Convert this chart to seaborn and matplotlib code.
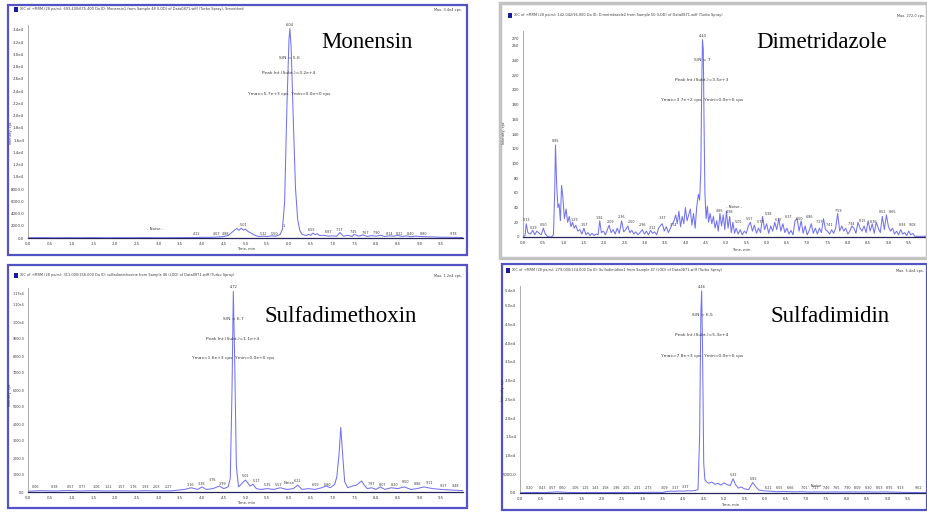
import matplotlib
matplotlib.use("Agg")
import matplotlib.pyplot as plt
import seaborn as sns
import pandas as pd
from matplotlib.patches import Rectangle

# ---------------- data ----------------
mon_t = [0.0, 0.3, 0.6, 0.9, 1.2, 1.5, 1.8, 2.1, 2.4, 2.7,
         3.0, 3.3, 3.6, 3.9, 4.1, 4.2, 4.3, 4.4, 4.5, 4.6,
         4.65, 4.7, 4.75, 4.8, 4.85, 4.9, 4.95, 5.0, 5.05, 5.1,
         5.15, 5.2, 5.25, 5.3, 5.4, 5.5, 5.6, 5.7, 5.8, 5.85,
         5.9, 5.95, 6.0, 6.02, 6.05, 6.1, 6.15, 6.2, 6.25, 6.3,
         6.4, 6.45, 6.5, 6.55, 6.6, 6.65, 6.7, 6.8, 6.9, 7.0,
         7.1, 7.17, 7.25, 7.35, 7.45, 7.5, 7.6, 7.7, 7.8, 7.9,
         8.0, 8.1, 8.2, 8.3, 8.4, 8.5, 8.6, 8.7, 8.8, 8.9,
         9.0, 9.2, 9.4, 9.6, 9.8, 10.0]
mon_i = [40, 60, 30, 50, 40, 60, 30, 50, 40, 60,
         40, 50, 60, 80, 120, 100, 150, 180, 250, 400,
         700, 1000, 1300, 1550, 1250, 1600, 1300, 1450, 1100, 900,
         700, 500, 350, 250, 300, 250, 350, 300, 600, 1500,
         6000, 21000, 32500, 34200, 31000, 19000, 8000, 3000, 1200, 600,
         400, 600, 450, 800, 550, 700, 400, 450, 300, 350,
         300, 900, 300, 450, 250, 600, 300, 500, 250, 400,
         300, 450, 250, 350, 300, 400, 250, 350, 200, 300,
         250, 200, 150, 120, 100, 80]

dim_t = [0.00, 0.05, 0.08, 0.12, 0.18, 0.24, 0.29, 0.34, 0.40, 0.45,
         0.50, 0.55, 0.60, 0.65, 0.70, 0.75, 0.78, 0.80, 0.83, 0.86,
         0.89, 0.92, 0.95, 0.98, 1.02, 1.06, 1.10, 1.14, 1.18, 1.22,
         1.26, 1.30, 1.35, 1.40, 1.45, 1.50, 1.55, 1.60, 1.65, 1.70,
         1.75, 1.80, 1.85, 1.89, 1.93, 1.98, 2.03, 2.08, 2.12, 2.17,
         2.22, 2.27, 2.32, 2.37, 2.43, 2.48, 2.53, 2.58, 2.63, 2.68,
         2.73, 2.78, 2.83, 2.88, 2.94, 2.99, 3.04, 3.09, 3.14, 3.19,
         3.24, 3.29, 3.34, 3.39, 3.43, 3.48, 3.53, 3.58, 3.63, 3.68,
         3.72, 3.76, 3.80, 3.84, 3.88, 3.92, 3.96, 4.00, 4.04, 4.08,
         4.12, 4.16, 4.20, 4.24, 4.28, 4.32, 4.35, 4.38, 4.40, 4.42,
         4.44, 4.46, 4.48, 4.51, 4.54, 4.57, 4.61, 4.65, 4.69, 4.73,
         4.77, 4.81, 4.85, 4.89, 4.93, 4.97, 5.01, 5.05, 5.09, 5.13,
         5.17, 5.21, 5.25, 5.30, 5.35, 5.40, 5.45, 5.50, 5.55, 5.60,
         5.65, 5.70, 5.75, 5.80, 5.85, 5.90, 5.95, 6.00, 6.05, 6.10,
         6.15, 6.20, 6.25, 6.30, 6.35, 6.40, 6.45, 6.50, 6.55, 6.60,
         6.65, 6.70, 6.75, 6.80, 6.85, 6.90, 6.95, 7.00, 7.05, 7.10,
         7.15, 7.20, 7.25, 7.30, 7.35, 7.40, 7.45, 7.50, 7.55, 7.60,
         7.65, 7.70, 7.75, 7.80, 7.85, 7.90, 7.95, 8.00, 8.05, 8.10,
         8.15, 8.20, 8.25, 8.30, 8.35, 8.40, 8.45, 8.50, 8.55, 8.60,
         8.65, 8.70, 8.75, 8.80, 8.85, 8.90, 8.95, 9.00, 9.05, 9.10,
         9.15, 9.20, 9.25, 9.30, 9.35, 9.40, 9.45, 9.50, 9.55, 9.60,
         9.65, 9.75, 9.85, 9.95]
dim_i = [0, 2, 18, 6, 4, 9, 3, 8, 5, 3,
         12, 4, 1, 0, 0, 3, 60, 125, 70, 40,
         45, 22, 70, 55, 25, 38, 20, 28, 14, 20,
         12, 16, 8, 10, 4, 12, 3, 6, 2, 5,
         2, 4, 3, 22, 6, 8, 3, 10, 16, 6,
         10, 4, 12, 5, 22, 7, 10, 15, 6, 9,
         4, 7, 3, 6, 10, 4, 8, 3, 9, 5,
         7, 3, 12, 16, 18, 8, 14, 6, 12, 18,
         22, 30, 18, 35, 14, 28, 18, 40, 22, 30,
         38, 16, 32, 12, 42, 58, 50, 90, 200, 268,
         255, 150, 60, 25, 42, 20, 32, 18, 28, 12,
         22, 8, 32, 15, 30, 10, 35, 12, 28, 6,
         20, 5, 12, 4, 10, 3, 8, 5, 15, 20,
         8, 16, 5, 12, 6, 28, 10, 18, 5, 15,
         8, 20, 10, 25, 8, 18, 6, 12, 4, 9,
         3, 22, 25, 8, 22, 5, 15, 3, 9, 18,
         5, 12, 4, 12, 6, 25, 10, 8, 4, 10,
         5, 12, 32, 8, 15, 8, 12, 4, 8, 15,
         12, 5, 20, 12, 8, 15, 6, 22, 8, 18,
         5, 20, 12, 6, 28, 10, 30, 14, 8, 12,
         4, 8, 3, 10, 4, 6, 2, 8, 3, 5,
         1, 1, 1, 1]

sdm_t = [0.0, 0.3, 0.6, 0.9, 1.2, 1.5, 1.8, 2.1, 2.4, 2.7,
         3.0, 3.3, 3.6, 3.75, 3.9, 4.0, 4.1, 4.25, 4.4, 4.5,
         4.6, 4.65, 4.69, 4.72, 4.75, 4.79, 4.84, 4.9, 4.95, 5.0,
         5.05, 5.1, 5.17, 5.25, 5.35, 5.5, 5.65, 5.8, 5.95, 6.1,
         6.2, 6.3, 6.45, 6.6, 6.75, 6.85, 6.95, 7.05, 7.1, 7.15,
         7.19, 7.23, 7.28, 7.35, 7.45, 7.55, 7.62, 7.67, 7.73, 7.8,
         7.9, 8.0, 8.1, 8.2, 8.35, 8.5, 8.65, 8.8, 8.95, 9.1,
         9.3, 9.5, 9.7, 10.0]
sdm_i = [50, 80, 60, 90, 60, 80, 60, 70, 60, 80,
         60, 70, 150, 250, 150, 300, 150, 200, 350, 200,
         300, 800, 6000, 11800, 8000, 1500, 300, 450, 600, 700,
         550, 350, 450, 200, 150, 200, 150, 250, 150, 200,
         400, 150, 200, 150, 250, 350, 250, 450, 900, 2200,
         3800, 2300, 600, 250, 350, 400, 550, 650, 400, 200,
         250, 150, 300, 150, 250, 200, 300, 150, 200, 300,
         200, 150, 120, 80]

sdd_t = [0.0, 0.3, 0.6, 0.9, 1.2, 1.5, 1.8, 2.1, 2.4, 2.7,
         3.0, 3.3, 3.5, 3.6, 3.7, 3.8, 3.9, 4.0, 4.1, 4.2,
         4.3, 4.36, 4.4, 4.43, 4.45, 4.47, 4.5, 4.53, 4.57, 4.62,
         4.7, 4.78, 4.85, 4.92, 5.0, 5.08, 5.15, 5.22, 5.28, 5.35,
         5.42, 5.5, 5.6, 5.7, 5.78, 5.85, 5.95, 6.1, 6.3, 6.5,
         6.7, 6.9, 7.1, 7.3, 7.5, 7.7, 7.9, 8.1, 8.3, 8.5,
         8.7, 8.9, 9.1, 9.3, 9.5, 9.7, 9.95]
sdd_i = [100, 150, 100, 300, 150, 100, 150, 100, 150, 100,
         150, 200, 150, 400, 500, 450, 550, 500, 600, 550,
         700, 900, 15000, 48000, 54000, 40000, 8000, 3500, 3000, 2600,
         2900, 2300, 2600, 2100, 2700, 2200, 2000, 3800, 2200, 1300,
         1600, 1100, 900, 2800, 1600, 800, 600, 500, 350, 400,
         300, 350, 250, 300, 250, 300, 250, 300, 250, 300,
         250, 300, 250, 200, 150, 120, 100]

# small retention-time labels (time, intensity, text)
mon_lab = [(3.88, 300, "4.12"), (4.33, 300, "4.67"), (4.55, 300, "4.88"), (4.95, 1750, "5.01"),
           (5.41, 400, "5.32"), (5.66, 400, "5.50"), (5.87, 1600, "1"), (6.52, 900, "6.55"),
           (6.9, 600, "6.87"), (7.17, 1000, "7.17"), (7.48, 700, "7.45"), (7.75, 450, "7.67"),
           (8.02, 450, "7.90"), (8.3, 300, "8.14"), (8.55, 300, "8.22"), (8.8, 300, "8.40"),
           (9.1, 300, "8.80"), (9.78, 300, "9.78")]
dim_lab = [(0.08, 20, "0.13"), (0.27, 10, "0.29"), (0.5, 14, "0.50"), (0.80, 128, "0.85"),
           (1.26, 21, "1.29"), (1.52, 13, "1.57"), (1.89, 23, "1.92"), (2.15, 18, "2.09"),
           (2.43, 24, "2.36"), (2.68, 18, "2.50"), (2.94, 13, "2.96"), (3.2, 10, "3.12"),
           (3.43, 23, "3.37"), (3.7, 14, "3.74"), (4.85, 33, "4.85"), (5.08, 31, "4.98"),
           (5.3, 18, "5.05"), (5.59, 22, "5.57"), (5.84, 17, "5.77"), (6.05, 28, "5.98"),
           (6.3, 20, "6.17"), (6.55, 24, "6.37"), (6.8, 22, "6.50"), (7.05, 24, "6.86"),
           (7.3, 18, "7.27"), (7.55, 14, "7.41"), (7.78, 33, "7.59"),
           (8.08, 15, "7.94"), (8.35, 19, "8.15"), (8.63, 18, "8.36"), (8.86, 31, "8.52"),
           (9.1, 31, "8.65"), (9.35, 13, "8.93"), (9.6, 13, "9.08")]
sdm_lab = [(0.18, 150, "0.06"), (0.62, 150, "0.38"), (0.98, 200, "0.57"), (1.25, 150, "0.77"),
           (1.58, 150, "1.06"), (1.85, 150, "1.21"), (2.15, 150, "1.57"), (2.42, 150, "1.76"),
           (2.69, 150, "1.93"), (2.95, 150, "2.03"), (3.22, 150, "2.27"), (3.73, 300, "3.16"),
           (4.0, 350, "3.38"), (4.23, 600, "3.76"), (4.46, 350, "3.99"), (5.0, 800, "5.01"),
           (5.25, 550, "5.17"), (5.5, 300, "5.35"), (5.75, 300, "5.57"),
           (6.19, 500, "6.22"), (6.62, 300, "6.59"), (6.88, 300, "6.80"), (7.9, 350, "7.87"),
           (8.16, 300, "8.07"), (8.42, 300, "8.20"), (8.68, 450, "8.50"), (8.96, 350, "8.86"),
           (9.22, 400, "9.11"), (9.55, 250, "9.27"), (9.82, 250, "9.48")]
sdd_lab = [(0.23, 700, "0.20"), (0.55, 700, "0.43"), (0.8, 900, "0.57"), (1.05, 900, "0.60"),
           (1.35, 700, "1.06"), (1.6, 700, "1.25"), (1.85, 700, "1.43"), (2.1, 700, "1.58"),
           (2.37, 700, "1.96"), (2.62, 700, "2.05"), (2.88, 700, "2.31"), (3.14, 700, "2.73"),
           (3.55, 900, "3.09"), (3.8, 900, "3.17"), (4.06, 1100, "3.37"), (5.22, 4300, "5.22"),
           (5.71, 3300, "5.82"), (6.08, 800, "6.21"), (6.36, 800, "6.55"), (6.62, 800, "6.66"),
           (6.98, 800, "7.01"), (7.24, 800, "7.17"), (7.5, 800, "7.46"), (7.76, 800, "7.65"),
           (8.02, 800, "7.90"), (8.28, 800, "8.09"), (8.54, 800, "8.30"), (8.8, 800, "8.53"),
           (9.06, 800, "8.95"), (9.32, 800, "9.13"), (9.75, 800, "9.62")]

titles = ["Monensin", "Dimetridazole", "Sulfadimethoxin", "Sulfadimidin"]
headers = [
    "XIC of +MRM (28 pairs): 693.400/675.400 Da ID: Monensin1 from Sample 48 (LOD) of Data0871.wiff (Turbo Spray), Smoothed",
    "XIC of +MRM (28 pairs): 142.042/96.000 Da ID: Dimetridazole2 from Sample 50 (LOD) of Data0871.wiff (Turbo Spray)",
    "XIC of +MRM (28 pairs): 311.000/156.000 Da ID: sulfadimethoxine from Sample 46 (LOD) of Data0871.wiff (Turbo Spray)",
    "XIC of +MRM (28 pairs): 279.000/124.000 Da ID: Sulfadimidine1 from Sample 47 (LOD) of Data0871.wiff (Turbo Spray)",
]
maxes = ["Max. 3.4e4 cps.", "Max. 272.0 cps.", "Max. 1.2e4 cps.", "Max. 5.4e4 cps."]
sn = ["S/N = 5.6", "S/N = 7", "S/N = 6.7", "S/N = 6.5"]
pint = ["Peak Int.(Subt.)=3.2e+4", "Peak Int.(Subt.)=3.5e+3", "Peak Int.(Subt.)=1.1e+4", "Peak Int.(Subt.)=5.3e+4"]
ymm = ["Ymax=5.7e+3 cps  Ymin=0.0e+0 cps", "Ymax=3.7e+2 cps  Ymin=0.0e+0 cps",
       "Ymax=1.6e+3 cps  Ymin=0.0e+0 cps", "Ymax=7.8e+3 cps  Ymin=0.0e+0 cps"]
apex = [(6.02, 34200, "6.04"), (4.42, 268, "4.40"), (4.72, 11800, "4.72"), (4.45, 54000, "4.46")]
noise_lab = [(2.91, 1100, "- Noise -"), (5.2, 38, "- Noise -"), (6.0, 400, "Noise"), (7.25, 1400, "- Noise -")]

# ---------------- layout (pixels) ----------------
W, H = 927, 512
sns.set_theme(style="white")
plt.rcParams['font.family'] = ['DejaVu Sans']
fig = plt.figure(figsize=(W / 100, H / 100), dpi=100)
fig.patch.set_facecolor("white")


def fx(x):
    return x / W


def fy(y):
    return 1 - y / H


def fmt_cps(v):
    if v >= 1e4:
        return f"{v/1e4:.1f}e4"
    return f"{v:.1f}"


def fmt_sdm(v):
    if v >= 1e4:
        return f"{v/1e4:.2f}e4"
    return f"{v:.1f}"


def fmt_int(v):
    return f"{v:.0f}"


panels = [
    dict(t=mon_t, i=mon_i, lab=mon_lab, box=(8, 5, 467, 255), bcol="#5353c6", blw=1.6,
         ax=(28, 25, 463, 238), xl=10.0, yl=34800, yt=list(range(0, 34001, 2000)), fmt=fmt_cps, ts=2.8,
         hdr=(14, 9), hdr_r=462, title=(367, 43), ann=(289, 58, 73, 94), ylab=(11, 133), xlab=(246, 249)),
    dict(t=dim_t, i=dim_i, lab=dim_lab, box=(500, 3, 927, 258), bcol="#c3c3c3", blw=2.5,
         ax=(523, 31, 927, 237), xl=9.95, yl=280, yt=[0, 20, 40, 60, 80, 100, 120, 140, 160, 180, 200, 220, 240, 260, 270], fmt=fmt_int, ts=2.8,
         hdr=(508, 15), hdr_r=925, title=(822, 43), ann=(702, 60, 80, 100), ylab=(504, 133), xlab=(741, 250)),
    dict(t=sdm_t, i=sdm_i, lab=sdm_lab, box=(8, 265, 467, 508), bcol="#5353c6", blw=1.6,
         ax=(28, 288, 463, 492), xl=10.0, yl=12000, yt=list(range(0, 11001, 1000)) + [11700], fmt=fmt_sdm, ts=2.4,
         hdr=(14, 275), hdr_r=462, title=(341, 316), ann=(233, 319, 339, 358), ylab=(10.5, 395), xlab=(246, 503)),
    dict(t=sdd_t, i=sdd_i, lab=sdd_lab, box=(502, 264, 927, 510), bcol="#5353c6", blw=1.6,
         ax=(520, 286, 927, 493), xl=9.97, yl=55300, yt=list(range(0, 50001, 5000)) + [54000], fmt=fmt_cps, ts=2.8,
         hdr=(506, 270), hdr_r=924, title=(830, 316), ann=(702, 315, 335, 356), ylab=(503, 390), xlab=(730, 505)),
]

line_col = "#7373f2"
txt_col = "#3a3a3a"

for k, p in enumerate(panels):
    # frame of the screenshot
    x0, y0, x1, y1 = p["box"]
    fig.patches.append(Rectangle((fx(x0), fy(y1)), fx(x1) - fx(x0), fy(y0) - fy(y1),
                                 transform=fig.transFigure, fill=False,
                                 edgecolor=p["bcol"], lw=p["blw"]))
    l, t, r, b = p["ax"]
    ax = fig.add_axes([fx(l), fy(b), fx(r) - fx(l), (b - t) / H])
    ax.set_facecolor("none")
    df = pd.DataFrame({"t": p["t"], "i": p["i"]})
    sns.lineplot(data=df, x="t", y="i", ax=ax, color=line_col, linewidth=0.75,
                 estimator=None, sort=False, legend=False)
    ax.set_xlim(0, p["xl"])
    ax.set_ylim(0, p["yl"])
    xt = [v / 2 for v in range(0, 20)]
    ax.set_xticks(xt)
    ax.set_xticklabels([f"{v:.1f}" for v in xt])
    ax.set_xticks([v / 10 for v in range(0, int(p["xl"] * 10) + 1)], minor=True)
    ax.set_yticks(p["yt"])
    ax.set_yticklabels([p["fmt"](v) for v in p["yt"]])
    ax.tick_params(axis="x", which="major", labelsize=2.8, length=1.6, width=0.4,
                   pad=1.2, colors=txt_col)
    ax.tick_params(axis="y", which="major", labelsize=p["ts"], length=1.6, width=0.4,
                   pad=1.2, colors=txt_col)
    ax.tick_params(axis="x", which="minor", length=0.9, width=0.3, colors=txt_col)
    for s in ["top", "right"]:
        ax.spines[s].set_visible(False)
    ax.spines["left"].set_color("#8a8a8a")
    ax.spines["left"].set_linewidth(0.5)
    ax.spines["bottom"].set_color("#25255a")
    ax.spines["bottom"].set_linewidth(0.9)
    ax.set_xlabel("")
    ax.set_ylabel("")
    ax.grid(False)

    # peak labels
    for (tt, yy, s) in p["lab"]:
        ax.text(tt, yy, s, ha="center", va="bottom", fontsize=2.4, color=txt_col, clip_on=False)
    at, ay, atxt = apex[k]
    ax.annotate(atxt, (at, ay), xytext=(0, 1.5), textcoords="offset points",
                ha="center", va="bottom", fontsize=2.6, color=txt_col, annotation_clip=False)
    nt, ny, ntxt = noise_lab[k]
    ax.text(nt, ny, ntxt, ha="center", va="bottom", fontsize=2.8, color=txt_col)

    # header line
    hx, hy = p["hdr"]
    fig.patches.append(Rectangle((fx(hx), fy(hy + 2.5)), 4 / W, 5 / H, transform=fig.transFigure,
                                 facecolor="#1a1aa0", edgecolor="none"))
    fig.text(fx(hx + 6), fy(hy), headers[k], fontsize=2.5, color=txt_col, ha="left", va="center")
    fig.text(fx(p["hdr_r"]), fy(hy + 1), maxes[k], fontsize=2.5, color=txt_col, ha="right", va="center")

    # annotations
    cx, a1, a2, a3 = p["ann"]
    fig.text(fx(cx), fy(a1), sn[k], fontsize=3.2, color=txt_col, ha="center", va="center")
    fig.text(fx(cx), fy(a2), pint[k], fontsize=3.2, color=txt_col, ha="center", va="center")
    fig.text(fx(cx), fy(a3), ymm[k], fontsize=3.2, color=txt_col, ha="center", va="center")

    # axis titles
    yx, yy2 = p["ylab"]
    fig.text(fx(yx), fy(yy2), "Intensity, cps", fontsize=2.4, color=txt_col, rotation=90,
             ha="center", va="center")
    xx, xy = p["xlab"]
    fig.text(fx(xx), fy(xy), "Time, min", fontsize=2.6, color=txt_col, ha="center", va="center")

    # big compound name
    tx, ty = p["title"]
    fig.text(fx(tx), fy(ty), titles[k], fontsize=16.5, color="black", ha="center", va="center",
             family=["Liberation Serif", "DejaVu Serif"])

fig.savefig("out.png", dpi=100, facecolor="white")
